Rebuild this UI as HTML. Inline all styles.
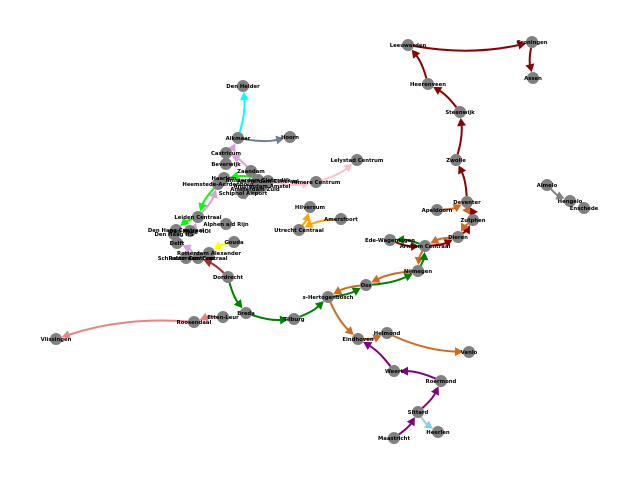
<!DOCTYPE html>
<html><head><meta charset="utf-8"><style>
html,body{margin:0;padding:0;background:#fff;}
svg text{font-family:"DejaVu Sans","Liberation Sans",sans-serif;font-weight:bold;font-size:5.3px;fill:#000;}
</style></head><body>
<svg id="chart" width="640" height="480" viewBox="0 0 640 480" xmlns="http://www.w3.org/2000/svg">
<g id="edges"></g>
<g id="nodes"></g>
<g id="labels"></g>
</svg>
<script>
const stationNames = ["Leeuwarden","Groningen","Assen","Heerenveen","Steenwijk","Zwolle","Deventer","Apeldoorn","Zutphen","Dieren","Arnhem Centraal","Ede-Wageningen","Nijmegen","Oss","s-Hertogenbosch","Tilburg","Breda","Etten-Leur","Roosendaal","Vlissingen","Eindhoven","Helmond","Venlo","Weert","Roermond","Sittard","Heerlen","Maastricht","Almelo","Hengelo","Enschede","Den Helder","Alkmaar","Hoorn","Castricum","Beverwijk","Zaandam","Haarlem","Amsterdam Sloterdijk","Amsterdam Centraal","Heemstede-Aerdenhout","Amsterdam Amstel","Amsterdam Zuid","Almere Centrum","Schiphol Airport","Lelystad Centrum","Leiden Centraal","Alphen a/d Rijn","Den Haag Centraal","Den Haag HS","Den Haag HOI","Delft","Gouda","Rotterdam Alexander","Rotterdam Centraal","Schiedam Centrum","Dordrecht","Hilversum","Amersfoort","Utrecht Centraal"];
const stationX = [408,532,533,428,460,456,467,437,473,458,425,390,418,366,328,294,246,223,194,56,358,387,469,394,441,418,438,394,547,570,584,243,238,290,226,226,251,224,258,268,218,262,255,316,243,357,198,226,176,174,190,177,234,209,198,186,228,310,341,299];
const stationY = [45,42,78,84,112,160,202,210,220,237,246,240,271,285,297,319,313,317,322,339,339,333,352,371,381,412,432,438,185,201,208,86,138,137,153,164,171,178,180,181,184,186,189,182,193,160,217,224,230,234,231,243,242,253,258,258,277,207,219,230];
const edgeFrom = ["Leeuwarden","Groningen","Heerenveen","Steenwijk","Zwolle","Deventer","Zutphen","Dieren","Arnhem Centraal","Ede-Wageningen","Apeldoorn","Deventer","Zutphen","Dieren","Arnhem Centraal","Nijmegen","Oss","s-Hertogenbosch","Eindhoven","Helmond","Dordrecht","Breda","Tilburg","s-Hertogenbosch","Oss","Nijmegen","Arnhem Centraal","Maastricht","Sittard","Roermond","Weert","Sittard","Etten-Leur","Roosendaal","Dordrecht","Gouda","Utrecht Centraal","Amersfoort","Alkmaar","Alkmaar","Rotterdam Centraal","Den Haag HOI","Leiden Centraal","Zaandam","Castricum","Amsterdam Centraal","Heemstede-Aerdenhout","Leiden Centraal","Schiphol Airport","Amsterdam Centraal","Almere Centrum","Almelo"];
const edgeTo = ["Groningen","Assen","Leeuwarden","Heerenveen","Steenwijk","Zwolle","Deventer","Zutphen","Dieren","Arnhem Centraal","Deventer","Zutphen","Dieren","Arnhem Centraal","Nijmegen","Oss","s-Hertogenbosch","Eindhoven","Helmond","Venlo","Breda","Tilburg","s-Hertogenbosch","Oss","Nijmegen","Arnhem Centraal","Ede-Wageningen","Sittard","Roermond","Weert","Eindhoven","Heerlen","Roosendaal","Vlissingen","Rotterdam Centraal","Rotterdam Alexander","Hilversum","Utrecht Centraal","Den Helder","Hoorn","Delft","Leiden Centraal","Heemstede-Aerdenhout","Castricum","Alkmaar","Haarlem","Leiden Centraal","Den Haag Centraal","Amsterdam Zuid","Almere Centrum","Lelystad Centrum","Hengelo"];
const edgeColor = ["#8b0000","#8b0000","#8b0000","#8b0000","#8b0000","#8b0000","#8b0000","#8b0000","#8b0000","#8b0000","#d2691e","#d2691e","#d2691e","#d2691e","#d2691e","#d2691e","#d2691e","#d2691e","#d2691e","#d2691e","#008000","#008000","#008000","#008000","#008000","#008000","#008000","#800080","#800080","#800080","#800080","#87ceeb","#f08080","#f08080","#a52a2a","#ffff00","#ffa500","#ffa500","#00ffff","#708090","#dda0dd","#dda0dd","#dda0dd","#dda0dd","#dda0dd","#00ff00","#00ff00","#00ff00","#00ff00","#ffc0cb","#ffc0cb","#808080"];

const NS="http://www.w3.org/2000/svg";
const eg=document.getElementById('edges'), ng=document.getElementById('nodes'), lg=document.getElementById('labels');
function pos(n){const i=stationNames.indexOf(n);return [stationX[i],stationY[i]];}
const R=6, RAD=0.1;
for(let k=0;k<edgeFrom.length;k++){
  const [x1,y1]=pos(edgeFrom[k]), [x2,y2]=pos(edgeTo[k]);
  const dx=x2-x1, dy=y2-y1;
  const cx=(x1+x2)/2 - RAD*dy, cy=(y1+y2)/2 + RAD*dx;
  let ax=x1-cx, ay=y1-cy, la=Math.hypot(ax,ay)||1;
  const sx=x1-ax/la*R, sy=y1-ay/la*R;
  let bx=x2-cx, by=y2-cy, lb=Math.hypot(bx,by)||1;
  const ux=bx/lb, uy=by/lb;
  const ex=x2-ux*R, ey=y2-uy*R;
  const hx=ex-ux*8, hy=ey-uy*8;
  const p=document.createElementNS(NS,'path');
  p.setAttribute('d',`M${sx},${sy} Q${cx},${cy} ${hx+ux*1},${hy+uy*1}`);
  p.setAttribute('stroke',edgeColor[k]);p.setAttribute('stroke-width','2');p.setAttribute('fill','none');
  
  
  eg.appendChild(p);
  const h=document.createElementNS(NS,'polygon');
  const px=-uy, py=ux;
  h.setAttribute('points',`${ex},${ey} ${hx+px*4.5},${hy+py*4.5} ${hx-px*4.5},${hy-py*4.5}`);
  h.setAttribute('fill',edgeColor[k]);
  
  
  eg.appendChild(h);
}
for(let i=0;i<stationNames.length;i++){
  const c=document.createElementNS(NS,'circle');
  c.setAttribute('cx',stationX[i]);c.setAttribute('cy',stationY[i]);c.setAttribute('r',R);c.setAttribute('fill','#808080');
  
  
  ng.appendChild(c);
  const t=document.createElementNS(NS,'text');
  t.setAttribute('x',stationX[i]);t.setAttribute('y',stationY[i]+1.8);t.setAttribute('text-anchor','middle');
  t.textContent=stationNames[i];
  
  
  lg.appendChild(t);
}
</script>
</body></html>
